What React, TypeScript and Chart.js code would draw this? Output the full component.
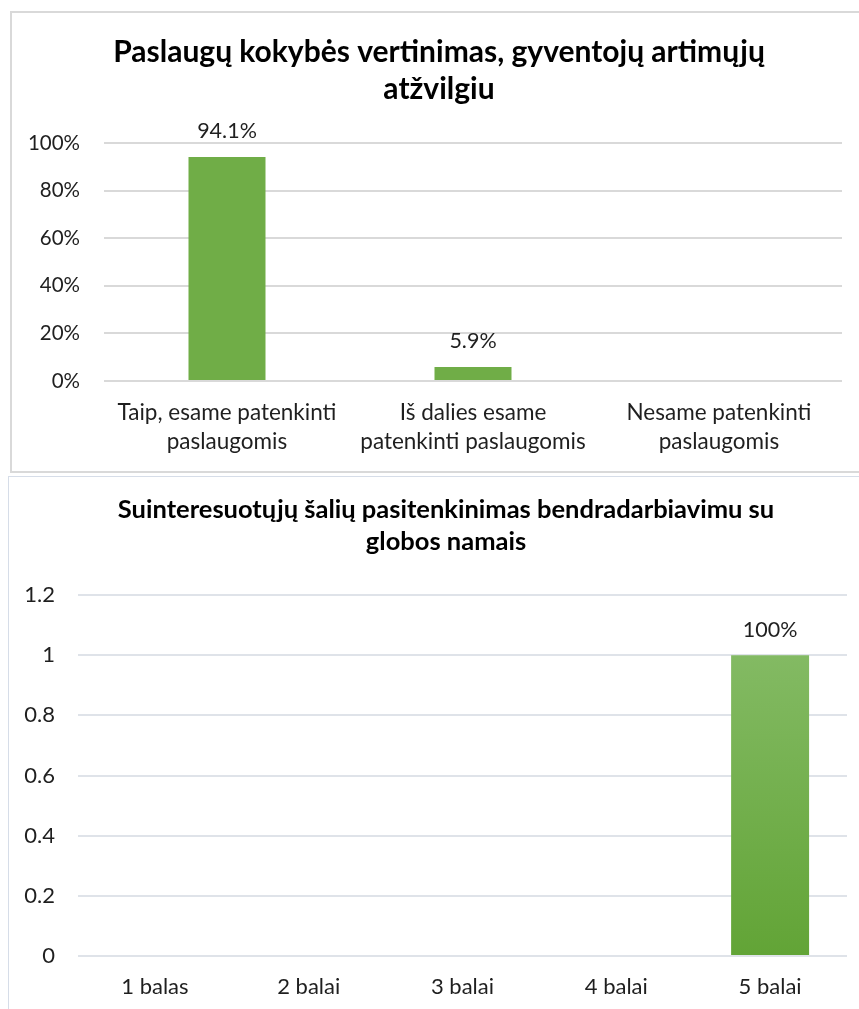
import React, { useEffect, useRef } from "react";
import { Chart, registerables } from "chart.js";

Chart.register(...registerables);

// ---- data: chart 1 ----
const title1 = ["Paslaugų kokybės vertinimas, gyventojų artimųjų", "atžvilgiu"];
const categories1 = [
  ["Taip, esame patenkinti", "paslaugomis"],
  ["Iš dalies esame", "patenkinti paslaugomis"],
  ["Nesame patenkinti", "paslaugomis"],
];
const values1: (number | null)[] = [0.941, 0.059, null];
const labels1: (string | null)[] = ["94.1%", "5.9%", null];
const ticks1 = [0, 0.2, 0.4, 0.6, 0.8, 1];

// ---- data: chart 2 ----
const title2 = ["Suinteresuotųjų šalių pasitenkinimas bendradarbiavimu su", "globos namais"];
const categories2 = ["1 balas", "2 balai", "3 balai", "4 balai", "5 balai"];
const values2: (number | null)[] = [null, null, null, null, 1];
const labels2: (string | null)[] = [null, null, null, null, "100%"];
const ticks2 = [0, 0.2, 0.4, 0.6, 0.8, 1, 1.2];

const FONT = "Lato, 'Open Sans', sans-serif";
const TEXT = "#1f1f1f";

function makeLabelPlugin(texts: (string | null)[], size: number, offset: number) {
  return {
    id: "barLabels",
    afterDatasetsDraw(chart: any) {
      const ctx = chart.ctx;
      const meta = chart.getDatasetMeta(0);
      ctx.save();
      ctx.font = `${size}px ${FONT}`;
      ctx.fillStyle = TEXT;
      ctx.textAlign = "center";
      ctx.textBaseline = "middle";
      meta.data.forEach((el: any, i: number) => {
        const t = texts[i];
        if (t == null) return;
        ctx.fillText(t, el.x, el.y - offset);
      });
      ctx.restore();
    },
  };
}

function spacerAxis(width: number) {
  return {
    type: "linear" as const,
    position: "right" as const,
    display: true,
    grid: { display: false, drawTicks: false },
    border: { display: false },
    ticks: { display: false },
    afterFit: (s: any) => {
      s.width = width;
    },
  };
}

function Chart1() {
  const ref = useRef<HTMLCanvasElement>(null);
  useEffect(() => {
    if (!ref.current) return;
    const chart = new Chart(ref.current, {
      type: "bar",
      data: {
        labels: categories1 as any,
        datasets: [
          {
            data: values1 as any,
            backgroundColor: "#70ad47",
            barPercentage: 1,
            categoryPercentage: 0.313,
          },
        ],
      },
      options: {
        responsive: false,
        animation: false,
        layout: { padding: 0 },
        plugins: {
          legend: { display: false },
          tooltip: { enabled: false },
          title: {
            display: true,
            text: title1,
            color: "#000",
            font: { family: FONT, size: 30, weight: "bold", lineHeight: "37px" as any },
            padding: { top: 20.5, bottom: 35.5 },
          },
        },
        scales: {
          x: {
            grid: { display: false, drawTicks: false },
            border: { display: false },
            ticks: {
              color: TEXT,
              font: { family: FONT, size: 22.5, lineHeight: "29px" as any },
              padding: 17.5,
              maxRotation: 0,
              autoSkip: false,
            },
            afterFit: (s: any) => {
              s.height = 90;
            },
          },
          y: {
            min: 0,
            max: 1,
            afterBuildTicks: (s: any) => {
              s.ticks = ticks1.map((v) => ({ value: v }));
            },
            grid: { color: "#d9d9d9", lineWidth: 2, drawTicks: false },
            border: { display: false },
            ticks: {
              color: TEXT,
              font: { family: FONT, size: 20.5 },
              padding: 24,
              callback: (v: any) => Math.round(Number(v) * 100) + "%",
            },
            afterFit: (s: any) => {
              s.width = 92;
            },
          },
          yR: spacerAxis(24) as any,
        },
      },
      plugins: [makeLabelPlugin(labels1, 21.5, 26)],
    });
    return () => chart.destroy();
  }, []);
  return <canvas ref={ref} width={854} height={458} style={{ display: "block" }} />;
}

function Chart2() {
  const ref = useRef<HTMLCanvasElement>(null);
  useEffect(() => {
    if (!ref.current) return;
    const chart = new Chart(ref.current, {
      type: "bar",
      data: {
        labels: categories2,
        datasets: [
          {
            data: values2 as any,
            backgroundColor: (c: any) => {
              const ch = c.chart;
              const y = ch.scales && ch.scales.y;
              if (!ch.chartArea || !y || c.raw == null) return "#70ad47";
              const top = y.getPixelForValue(c.raw);
              const bottom = y.getPixelForValue(0);
              const g = ch.ctx.createLinearGradient(0, top, 0, bottom);
              g.addColorStop(0, "#83ba63");
              g.addColorStop(1, "#62a436");
              return g;
            },
            barPercentage: 1,
            categoryPercentage: 0.507,
          },
        ],
      },
      options: {
        responsive: false,
        animation: false,
        layout: { padding: 0 },
        plugins: {
          legend: { display: false },
          tooltip: { enabled: false },
          title: {
            display: true,
            text: title2,
            color: "#000",
            font: { family: FONT, size: 25.5, weight: "bold", lineHeight: "32px" as any },
            padding: { top: 17, bottom: 37 },
          },
        },
        scales: {
          x: {
            grid: { display: false, drawTicks: false },
            border: { display: false },
            ticks: {
              color: TEXT,
              font: { family: FONT, size: 22, lineHeight: "25px" as any },
              padding: 18.5,
              maxRotation: 0,
              autoSkip: false,
            },
            afterFit: (s: any) => {
              s.height = 53;
            },
          },
          y: {
            min: 0,
            max: 1.2,
            afterBuildTicks: (s: any) => {
              s.ticks = ticks2.map((v) => ({ value: v }));
            },
            grid: { color: "#dfe3e9", lineWidth: 2, drawTicks: false },
            border: { display: false },
            ticks: {
              color: TEXT,
              font: { family: FONT, size: 22 },
              padding: 23,
              callback: (v: any) => String(Math.round(Number(v) * 10) / 10),
            },
            afterFit: (s: any) => {
              s.width = 69;
            },
          },
          yR: spacerAxis(36) as any,
        },
      },
      plugins: [makeLabelPlugin(labels2, 21.5, 25)],
    });
    return () => chart.destroy();
  }, []);
  return <canvas ref={ref} width={874} height={532} style={{ display: "block" }} />;
}

export default function App() {
  return (
    <div
      style={{
        position: "fixed",
        left: 0,
        top: 0,
        width: 859,
        height: 1009,
        overflow: "hidden",
        background: "#fff",
      }}
    >
      <div
        style={{
          position: "absolute",
          left: 10,
          top: 11,
          width: 900,
          height: 462,
          boxSizing: "border-box",
          border: "2px solid #d9d9d9",
        }}
      />
      <div style={{ position: "absolute", left: 12, top: 13 }}>
        <Chart1 />
      </div>
      <div
        style={{
          position: "absolute",
          left: 8,
          top: 476,
          width: 900,
          height: 600,
          boxSizing: "border-box",
          border: "1.5px solid #d6dde8",
        }}
      />
      <div style={{ position: "absolute", left: 9, top: 477 }}>
        <Chart2 />
      </div>
    </div>
  );
}
